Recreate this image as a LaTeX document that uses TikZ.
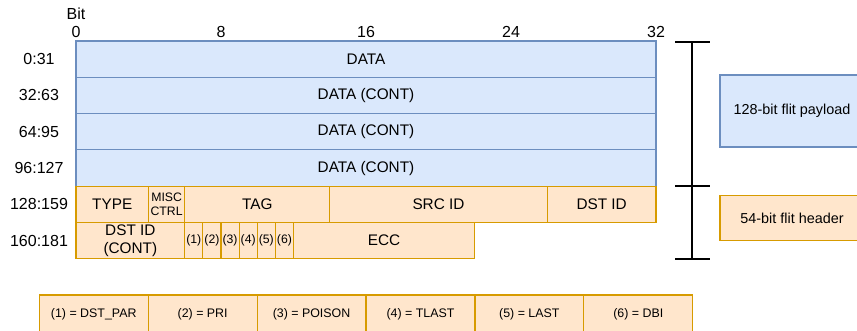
\documentclass[tikz,border=0pt]{standalone}
\usepackage{fontspec}
\setmainfont{Liberation Sans}
\definecolor{bluefill}{HTML}{DAE8FC}
\definecolor{bluedraw}{HTML}{6C8EBF}
\definecolor{orfill}{HTML}{FFE6CC}
\definecolor{ordraw}{HTML}{D79B00}
% one bit = 18.125 units, one row = 36.3 units, grid starts at (76,41)
\newcommand\bitfield[6]{%
  \node[#5, minimum width={(#3-#2)*18.125*0.75pt}, minimum height={36.3*0.75pt}]
    (#1) at ({76+(#2+#3)/2*18.125}, {41+(#4+0.5)*36.3}) {#6};}
\begin{document}
\begin{tikzpicture}[x=0.75pt,y=-0.75pt,
  base/.style={rectangle, inner sep=0pt, outer sep=0pt, line width=0.9pt, align=center},
  payload/.style={base, fill=bluefill, draw=bluedraw, font=\fontsize{11.5}{13}\selectfont},
  header/.style={base, fill=orfill, draw=ordraw, font=\fontsize{11.5}{13}\selectfont},
  headersmall/.style={header, font=\fontsize{9.2}{10.4}\selectfont},
  lbl/.style={inner sep=0pt, font=\fontsize{12}{14}\selectfont},
  side/.style={base, font=\fontsize{10.8}{13}\selectfont},
  legend/.style={base, fill=orfill, draw=ordraw, font=\fontsize{9.3}{11}\selectfont},
  bracket/.style={line width=1.5pt, black}]
\useasboundingbox (0,0) rectangle (857,331);

% bit ruler
\node[lbl] (bitlbl) at (76,13.5) {Bit};
\foreach \b in {0,8,16,24,32}
  \node[lbl] (bit\b) at ({76+\b*18.125},31.5) {\b};

% payload rows
\bitfield{data0}{0}{32}{0}{payload}{DATA}
\bitfield{data1}{0}{32}{1}{payload}{DATA (CONT)}
\bitfield{data2}{0}{32}{2}{payload}{DATA (CONT)}
\bitfield{data3}{0}{32}{3}{payload}{DATA (CONT)}

% header row 1
\bitfield{type}{0}{4}{4}{header}{TYPE}
\bitfield{misc}{4}{6}{4}{headersmall}{MISC\\CTRL}
\bitfield{tag}{6}{14}{4}{header}{TAG}
\bitfield{src}{14}{26}{4}{header}{SRC ID}
\bitfield{dst}{26}{32}{4}{header}{DST ID}

% header row 2
\bitfield{dstc}{0}{6}{5}{header}{DST ID\\(CONT)}
\bitfield{f1}{6}{7}{5}{headersmall}{(1)}
\bitfield{f2}{7}{8}{5}{headersmall}{(2)}
\bitfield{f3}{8}{9}{5}{headersmall}{(3)}
\bitfield{f4}{9}{10}{5}{headersmall}{(4)}
\bitfield{f5}{10}{11}{5}{headersmall}{(5)}
\bitfield{f6}{11}{12}{5}{headersmall}{(6)}
\bitfield{ecc}{12}{22}{5}{header}{ECC}

% row labels
\node[lbl] (r0) at (39,{41+0.5*36.3}) {0:31};
\node[lbl] (r1) at (39,{41+1.5*36.3}) {32:63};
\node[lbl] (r2) at (39,{41+2.5*36.3}) {64:95};
\node[lbl] (r3) at (39,{41+3.5*36.3}) {96:127};
\node[lbl] (r4) at (39,{41+4.5*36.3}) {128:159};
\node[lbl] (r5) at (39,{41+5.5*36.3}) {160:181};

% extent bracket
\coordinate (btop) at (692,42);
\coordinate (bmid) at (692,186);
\coordinate (bbot) at (692,259);
\draw[bracket] (btop) -- (bbot);
\foreach \c in {btop,bmid,bbot}
  \draw[bracket] ([xshift=-17*0.75pt]\c) -- ([xshift=18*0.75pt]\c);

% side captions
\node[side, fill=bluefill, draw=bluedraw, minimum width={144*0.75pt}, minimum height={72*0.75pt}]
  (cappay) at (792,111) {128-bit flit payload};
\node[side, fill=orfill, draw=ordraw, minimum width={144*0.75pt}, minimum height={45*0.75pt}]
  (caphdr) at (792,218.3) {54-bit flit header};

% legend
\foreach [count=\i from 0] \t in {(1) = DST\_PAR,(2) = PRI,(3) = POISON,(4) = TLAST,(5) = LAST,(6) = DBI}
  \node[legend, minimum width={108.9*0.75pt}, minimum height={38*0.75pt}]
    (leg\i) at ({39.3+(\i+0.5)*108.9},314) {\t};
\end{tikzpicture}
\end{document}
